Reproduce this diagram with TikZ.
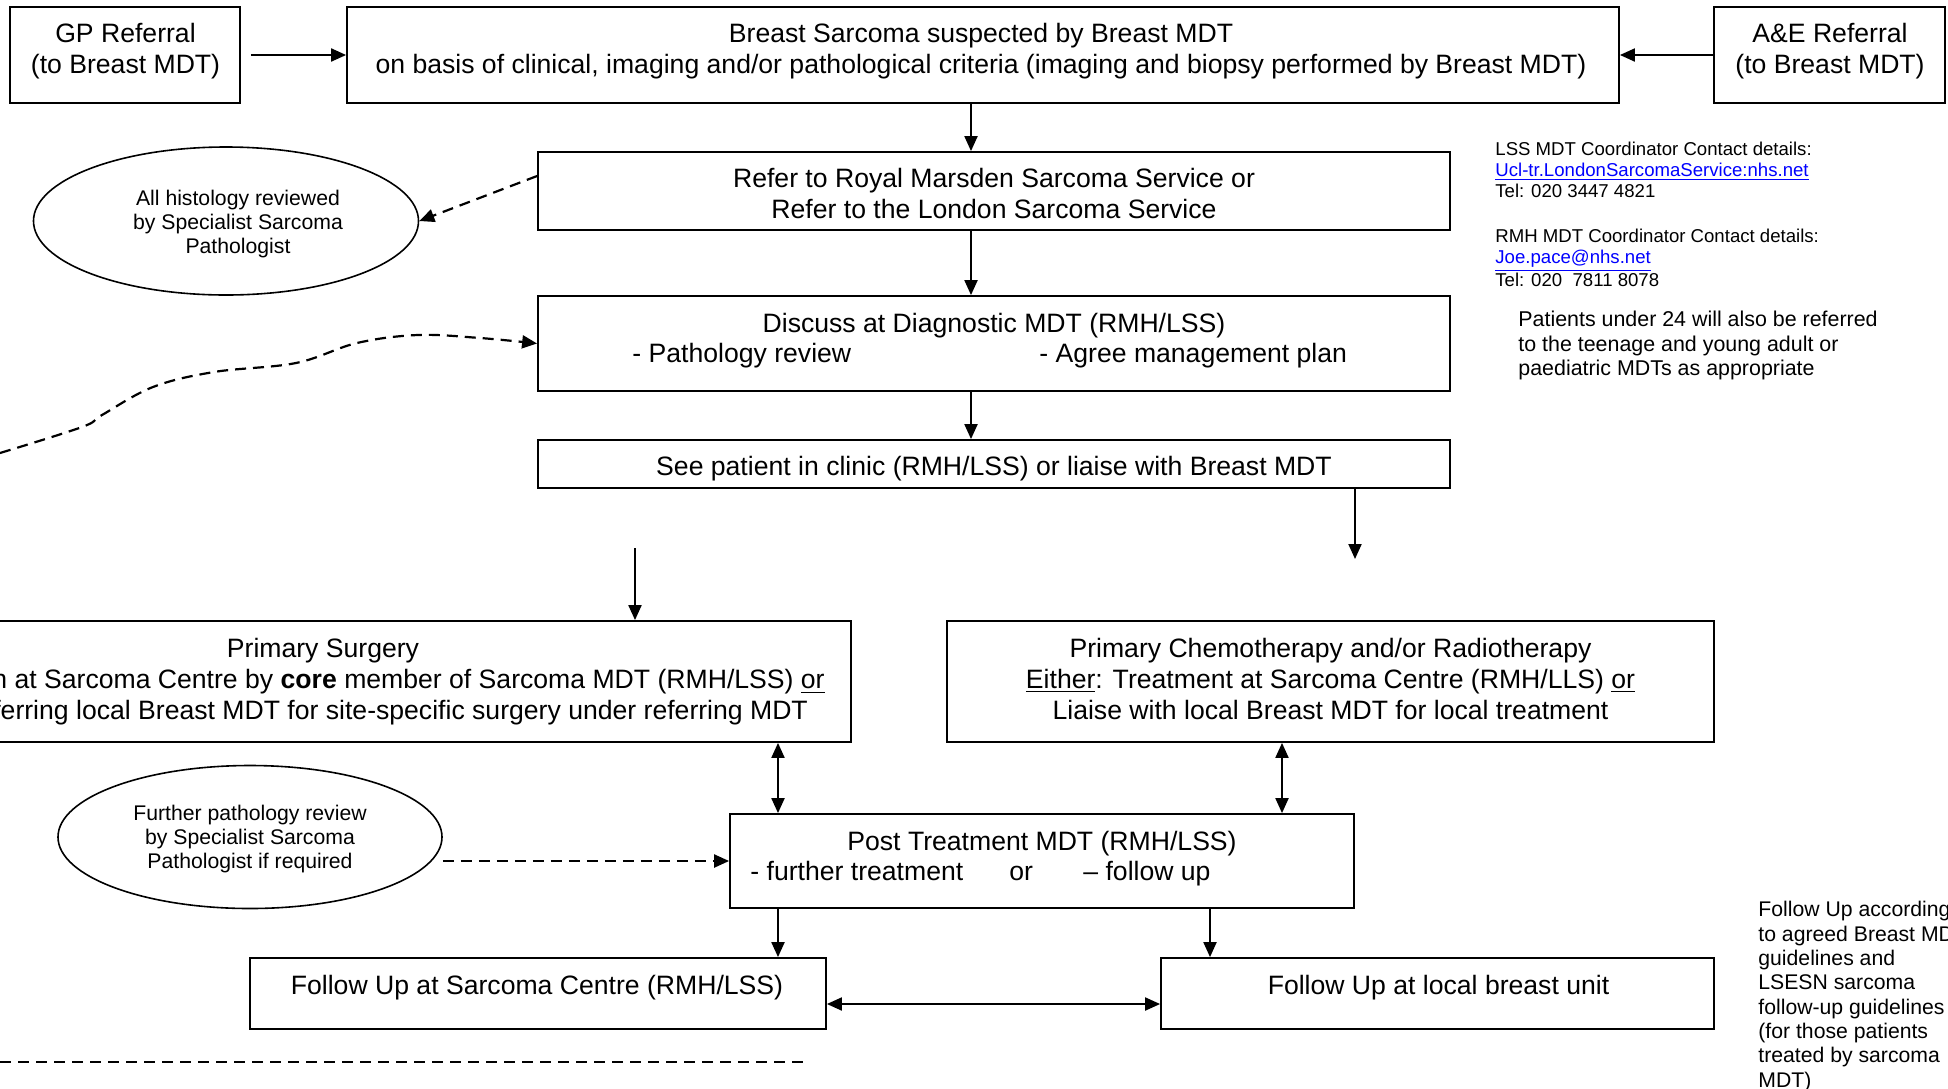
\documentclass[tikz,border=0pt]{standalone}
\usepackage{fontspec}
\setmainfont{Liberation Sans}
\usetikzlibrary{arrows.meta,shapes.geometric}
\newcommand\mainsz{\fontsize{13.3}{15.5}\selectfont}
\newcommand\smallsz{\fontsize{9.3}{10.5}\selectfont}
\newcommand\ellsz{\fontsize{10.6}{12}\selectfont}
\newcommand\notesz{\fontsize{10.7}{12.4}\selectfont}
\newcommand\fusz{\fontsize{10.6}{12.15}\selectfont}
\newcommand\lnk[1]{\textcolor{linkblue}{\underline{#1}}}
\definecolor{linkblue}{RGB}{0,0,255}
\begin{document}
\begin{tikzpicture}[x=0.5pt,y=-0.5pt,
  box/.style={draw,line width=0.9pt,inner sep=0pt},
  ovalbox/.style={draw,ellipse,line width=0.8pt,inner sep=0pt},
  txt/.style={inner sep=0pt,align=center,font=\mainsz},
  tip/.tip={Triangle[length=7.5pt,width=6.5pt]},
  arr/.style={line width=1pt,-tip},
  darr/.style={line width=1pt,tip-tip},
  dasharr/.style={line width=1.1pt,dash pattern=on 5.5pt off 3.5pt,-tip},
  dashline/.style={line width=1.1pt,dash pattern=on 5.5pt off 3.5pt}]
\clip (0,0) rectangle (1948,1088);
\fill[white] (0,0) rectangle (1948,1088);

% boxes
\node[box,minimum width=115pt,minimum height=48pt] (gp) at (125,55) {};
\node[box,minimum width=636pt,minimum height=48pt] (bs) at (983,55) {};
\node[box,minimum width=115.5pt,minimum height=48pt] (ae) at (1829.5,55) {};
\node[box,minimum width=456pt,minimum height=39pt] (refer) at (994,191) {};
\node[box,minimum width=456pt,minimum height=47.5pt] (disc) at (994,343.5) {};
\node[box,minimum width=456pt,minimum height=24pt] (see) at (994,464) {};
\node[box,minimum width=528pt,minimum height=60.5pt] (surg) at (323,681.5) {};
\node[box,minimum width=383.5pt,minimum height=60.5pt] (chemo) at (1330.5,681.5) {};
\node[box,minimum width=312pt,minimum height=47pt] (post) at (1042,861) {};
\node[box,minimum width=288pt,minimum height=35.5pt] (fus) at (538,993.5) {};
\node[box,minimum width=276.5pt,minimum height=35.5pt] (ful) at (1437.5,993.5) {};
\node[ovalbox,minimum width=192.5pt,minimum height=74pt] (ell1) at (226,221) {};
\node[ovalbox,minimum width=192pt,minimum height=71.5pt] (ell2) at (250,837) {};

% texts
\node[txt] (gpt) at (125.5,51.5) {GP Referral\\(to Breast MDT)};
\node[txt] (bst) at (981,51.5) {Breast Sarcoma suspected by Breast MDT\\on basis of clinical, imaging and/or pathological criteria (imaging and biopsy performed by Breast MDT)};
\node[txt] (aet) at (1830,51.5) {A\&E Referral\\(to Breast MDT)};
\node[txt] (refert) at (994,193) {Refer to Royal Marsden Sarcoma Service or\\Refer to the London Sarcoma Service};
\node[txt] (disct) at (994,325.5) {Discuss at Diagnostic MDT (RMH/LSS)};
\node[txt,anchor=base west] (disca) at (632,362) {- Pathology review};
\node[txt,anchor=base west] (discb) at (1039,362) {- Agree management plan};
\node[txt] (seet) at (994,468.5) {See patient in clinic (RMH/LSS) or liaise with Breast MDT};
\node[txt] (surgt) at (323,682) {Primary Surgery\\\underline{Either}: Excision at Sarcoma Centre by \textbf{core} member of Sarcoma MDT (RMH/LSS) \underline{or}\\Liaise with referring local Breast MDT for site-specific surgery under referring MDT};
\node[txt] (chemot) at (1330.5,679) {Primary Chemotherapy and/or Radiotherapy\\\underline{Either}: Treatment at Sarcoma Centre (RMH/LLS) \underline{or}\\Liaise with local Breast MDT for local treatment};
\node[txt] (postt) at (1042,843.5) {Post Treatment MDT (RMH/LSS)};
\node[txt,anchor=base west] (posta) at (750,880) {- further treatment};
\node[txt,anchor=base west] (postb) at (1009,880) {or};
\node[txt,anchor=base west] (postc) at (1083,880) {{\textendash} follow up};
\node[txt] (fust) at (537,987.5) {Follow Up at Sarcoma Centre (RMH/LSS)};
\node[txt] (fult) at (1438.5,987.5) {Follow Up at local breast unit};
\node[txt,font=\ellsz] (ell1t) at (238,224) {All histology reviewed\\by Specialist Sarcoma\\Pathologist};
\node[txt,font=\ellsz] (ell2t) at (250,839.5) {Further pathology review\\by Specialist Sarcoma\\Pathologist if required};
\node[txt,font=\smallsz,align=left,anchor=west] (contact) at (1495,214.5) {LSS MDT Coordinator Contact details:\\\lnk{Ucl-tr.LondonSarcomaService:nhs.net}\\Tel: 020 3447 4821\\[12pt]RMH MDT Coordinator Contact details:\\\lnk{Joe.pace@nhs.net}\\Tel: 020 \ 7811 8078};
\node[txt,font=\notesz,align=left,anchor=west] (note) at (1518,345.5) {Patients under 24 will also be referred\\to the teenage and young adult or\\paediatric MDTs as appropriate};
\node[txt,font=\fusz,align=left,anchor=west] (funote) at (1758,996.5) {Follow Up according\\to agreed Breast MDT\\guidelines and\\LSESN sarcoma\\follow-up guidelines\\(for those patients\\treated by sarcoma\\MDT)};

% helper coordinates
\coordinate (xa) at (971,0);
\coordinate (xd) at (778,0);
\coordinate (xe) at (1282,0);
\coordinate (xf) at (1210,0);
\coordinate (yg) at (0,1004);
\coordinate (seeend) at (1355,559);
\coordinate (surgstart) at (635,548);
\coordinate (cstart) at (0,453);
\coordinate (dl1) at (0,1062);
\coordinate (dl2) at (805,1062);

% connectors
\draw[arr,shorten <=5pt] (gp.east) -- (bs.west);
\draw[arr] (ae.west) -- (bs.east);
\draw[arr] (bs.south -| xa) -- (refer.north -| xa);
\draw[arr] (refer.south -| xa) -- (disc.north -| xa);
\draw[arr] (disc.south -| xa) -- (see.north -| xa);
\draw[arr] (see.south -| seeend) -- (seeend);
\draw[arr] (surgstart) -- (surg.north -| surgstart);
\draw[darr] (surg.south -| xd) -- (post.north -| xd);
\draw[darr] (chemo.south -| xe) -- (post.north -| xe);
\draw[arr] (post.south -| xd) -- (fus.north -| xd);
\draw[arr] (post.south -| xf) -- (ful.north -| xf);
\draw[darr] (fus.east |- yg) -- (ful.west |- yg);
\draw[dasharr] ([yshift=7.5pt]refer.west) -- (ell1.east);
\draw[dasharr] (ell2.east |- post.west) -- (post.west);
\draw[dasharr] plot[smooth,tension=0.6] coordinates {(cstart) (82,427) (102,415) (153,387) (214,372) (296,363) (357,343) (418,335) (480,338) (disc.west)};
\draw[dashline] (dl1) -- (dl2);
\end{tikzpicture}
\end{document}
